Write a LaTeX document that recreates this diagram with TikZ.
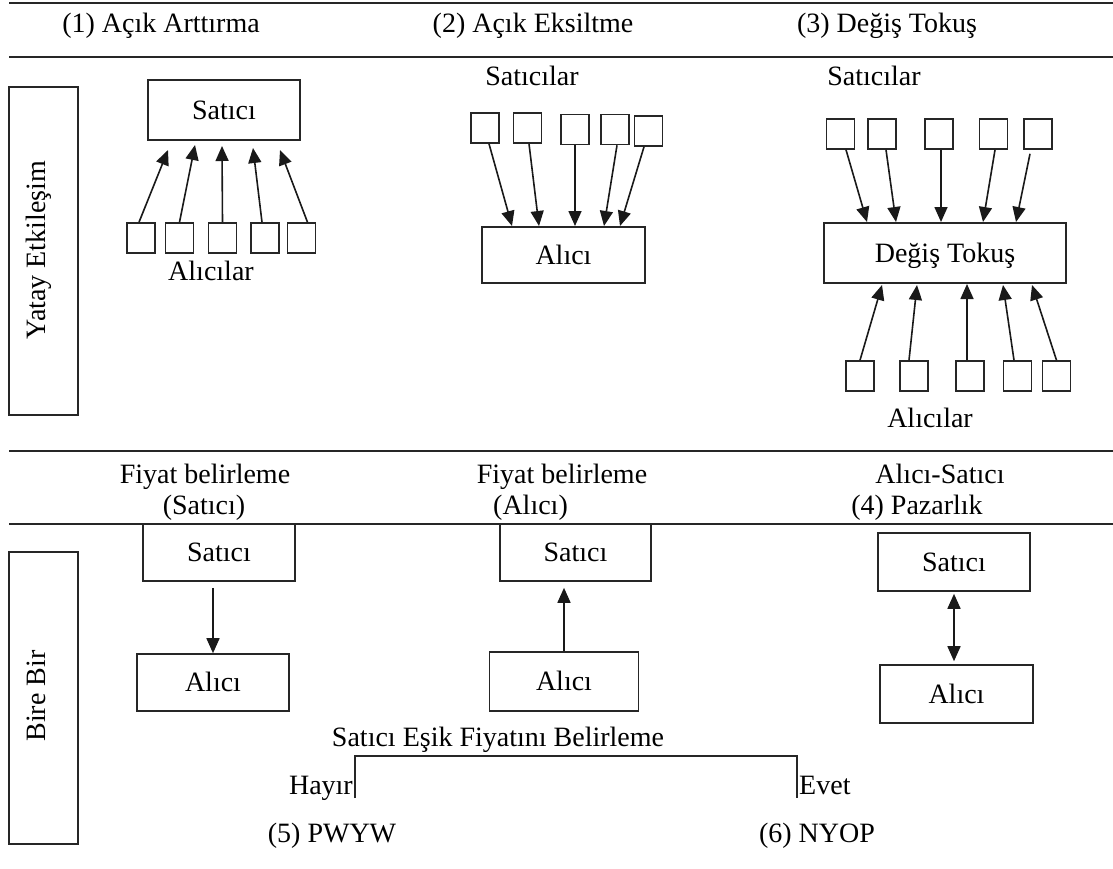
\documentclass[tikz,border=0pt]{standalone}
\usepackage{fontspec}
\setmainfont{Liberation Serif}
\usetikzlibrary{arrows.meta,calc}

\begin{document}
\begin{tikzpicture}[x=1pt,y=-1pt,
  every node/.style={font=\fontsize{28}{33}\selectfont, inner sep=0pt},
  rule/.style={line width=1.6pt, draw=black!85},
  box/.style={draw=black!85, line width=1.6pt, inner sep=0pt, text height=18pt, text depth=0pt},
  sq/.style={draw=black!85, line width=1.6pt, minimum width=28pt, minimum height=30pt},
  tip/.style={-{Triangle[length=15pt,width=13pt]}},
  arr/.style={line width=1.6pt, draw=black!90, tip},
  darr/.style={line width=1.6pt, draw=black!90, {Triangle[length=15pt,width=13pt]}-{Triangle[length=15pt,width=13pt]}},
  lbl/.style={anchor=base},
]
\useasboundingbox (0,0) rectangle (1113,868);
\fill[white] (0,0) rectangle (1113,868);

% horizontal rules of the table
\draw[rule] (9,3) -- (1113,3);
\draw[rule] (9,57) -- (1113,57);
\draw[rule] (9,451) -- (1113,451);
\draw[rule] (9,524) -- (1113,524);

% column headings
\node[lbl] (h1) at (161,32) {(1) Açık Arttırma};
\node[lbl] (h2) at (533,32) {(2) Açık Eksiltme};
\node[lbl] (h3) at (887,32) {(3) Değiş Tokuş};

% row labels
\node[box, minimum width=69pt, minimum height=328pt] (yb) at (43.5,251) {};
\node[anchor=base, rotate=90] (yt) at (45,250) {Yatay Etkileşim};
\node[box, minimum width=69pt, minimum height=292pt] (bb) at (43.5,698) {};
\node[anchor=base, rotate=90] (bt) at (45,696) {Bire Bir};

% (1) open auction: many buyers bid to one seller
\node[box, minimum width=152pt, minimum height=60pt] (s1) at (224,110) {Satıcı};
\node[sq] (b11) at (141,238) {};
\node[sq] (b12) at (179.5,238) {};
\node[sq] (b13) at (222.5,238) {};
\node[sq] (b14) at (265,238) {};
\node[sq] (b15) at (301.5,238) {};
\coordinate (t11) at (168,150);
\coordinate (t12) at (195,145);
\coordinate (t13) at (222,146);
\coordinate (t14) at (253,148);
\coordinate (t15) at (280,150);
\draw[arr] ($(b11.north)+(-2,0)$) -- (t11);
\draw[arr] (b12.north) -- (t12);
\draw[arr] (b13.north) -- (t13);
\draw[arr] ($(b14.north)+(-3,0)$) -- (t14);
\draw[arr] ($(b15.north)+(6,0)$) -- (t15);
\node[lbl] (l1) at (211,280) {Alıcılar};

% (2) reverse auction: many sellers offer to one buyer
\node[lbl] (l2) at (532,85) {Satıcılar};
\node[sq] (b21) at (485,128) {};
\node[sq] (b22) at (527.5,128) {};
\node[sq] (b23) at (575,129.5) {};
\node[sq] (b24) at (615,129.5) {};
\node[sq] (b25) at (648.5,131) {};
\node[box, minimum width=163pt, minimum height=56pt] (a2) at (563.5,255) {Alıcı};
\coordinate (t21) at (512,226);
\coordinate (t22) at (539,226);
\coordinate (t23) at (575,226);
\coordinate (t24) at (604,226);
\coordinate (t25) at (620,226);
\draw[arr] ($(b21.south)+(4,0)$) -- (t21);
\draw[arr] ($(b22.south)+(1.5,0)$) -- (t22);
\draw[arr] (b23.south) -- (t23);
\draw[arr] ($(b24.south)+(2,0)$) -- (t24);
\draw[arr] ($(b25.south)+(-4.5,0)$) -- (t25);

% (3) exchange: sellers and buyers meet in the middle
\node[lbl] (l3) at (874,85) {Satıcılar};
\node[sq] (c1) at (840.5,134) {};
\node[sq] (c2) at (882,134) {};
\node[sq] (c3) at (939,134) {};
\node[sq] (c4) at (993.5,134) {};
\node[sq] (c5) at (1038,134) {};
\node[box, minimum width=242pt, minimum height=60pt] (dt) at (945,253) {Değiş Tokuş};
\coordinate (u1) at (867,222);
\coordinate (u2) at (896,222);
\coordinate (u3) at (941,222);
\coordinate (u4) at (983,222);
\coordinate (u5) at (1016,222);
\draw[arr] ($(c1.south)+(5.5,0)$) -- (u1);
\draw[arr] ($(c2.south)+(4,0)$) -- (u2);
\draw[arr] ($(c3.south)+(2,0)$) -- (u3);
\draw[arr] ($(c4.south)+(1.5,0)$) -- (u4);
\draw[arr] ($(c5.south)+(-8,4)$) -- (u5);
\node[sq] (d1) at (860,376) {};
\node[sq] (d2) at (914,376) {};
\node[sq] (d3) at (970,376) {};
\node[sq] (d4) at (1017.5,376) {};
\node[sq] (d5) at (1056.5,376) {};
\coordinate (v1) at (882,285);
\coordinate (v2) at (917,285);
\coordinate (v3) at (967,284);
\coordinate (v4) at (1003,285);
\coordinate (v5) at (1032,285);
\draw[arr] (d1.north) -- (v1);
\draw[arr] ($(d2.north)+(-5,0)$) -- (v2);
\draw[arr] ($(d3.north)+(-3,0)$) -- (v3);
\draw[arr] ($(d4.north)+(-3.5,0)$) -- (v4);
\draw[arr] (d5.north) -- (v5);
\node[lbl] (l4) at (930,427) {Alıcılar};

% one-to-one row headings
\node[lbl] (f1) at (205,483) {Fiyat belirleme};
\node[lbl] (f1b) at (204,514) {(Satıcı)};
\node[lbl] (f2) at (562,483) {Fiyat belirleme};
\node[anchor=base west] (f2b) at (493,514) {(Alıcı)};
\node[lbl] (f3) at (940,483) {Alıcı-Satıcı};
\node[lbl] (f3b) at (917,514) {(4) Pazarlık};

% seller sets the price
\node[box, minimum width=152pt, minimum height=57pt] (sa) at (219,552.5) {Satıcı};
\node[box, minimum width=152pt, minimum height=57pt] (aa) at (213,682.5) {Alıcı};
\draw[arr, shorten <=6pt] (aa.north |- sa.south) -- (aa.north);

% buyer sets the price
\node[box, minimum width=151pt, minimum height=57pt] (sb) at (575.5,552.5) {Satıcı};
\node[box, minimum width=149pt, minimum height=59pt] (ab) at (564,681.5) {Alıcı};
\draw[arr, shorten >=6pt] (ab.north) -- (ab.north |- sb.south);

% bargaining
\node[box, minimum width=152pt, minimum height=58pt] (sc) at (954,562) {Satıcı};
\node[box, minimum width=153pt, minimum height=58pt] (ac) at (956.5,694) {Alıcı};
\draw[darr, shorten <=2pt, shorten >=3pt] (sc.south) -- (sc.south |- ac.north);

% threshold price branch
\node[lbl] (th) at (498,746) {Satıcı Eşik Fiyatını Belirleme};
\coordinate (bl) at (355,798);
\coordinate (br) at (797,798);
\draw[rule] (bl) -- ++(0,-42) -| (br);
\node[anchor=base east] (no) at (353,794) {Hayır};
\node[anchor=base west] (yes) at (799,794) {Evet};
\node[lbl] (p5) at (332,842) {(5) PWYW};
\node[lbl] (p6) at (817,842) {(6) NYOP};
\end{tikzpicture}
\end{document}
